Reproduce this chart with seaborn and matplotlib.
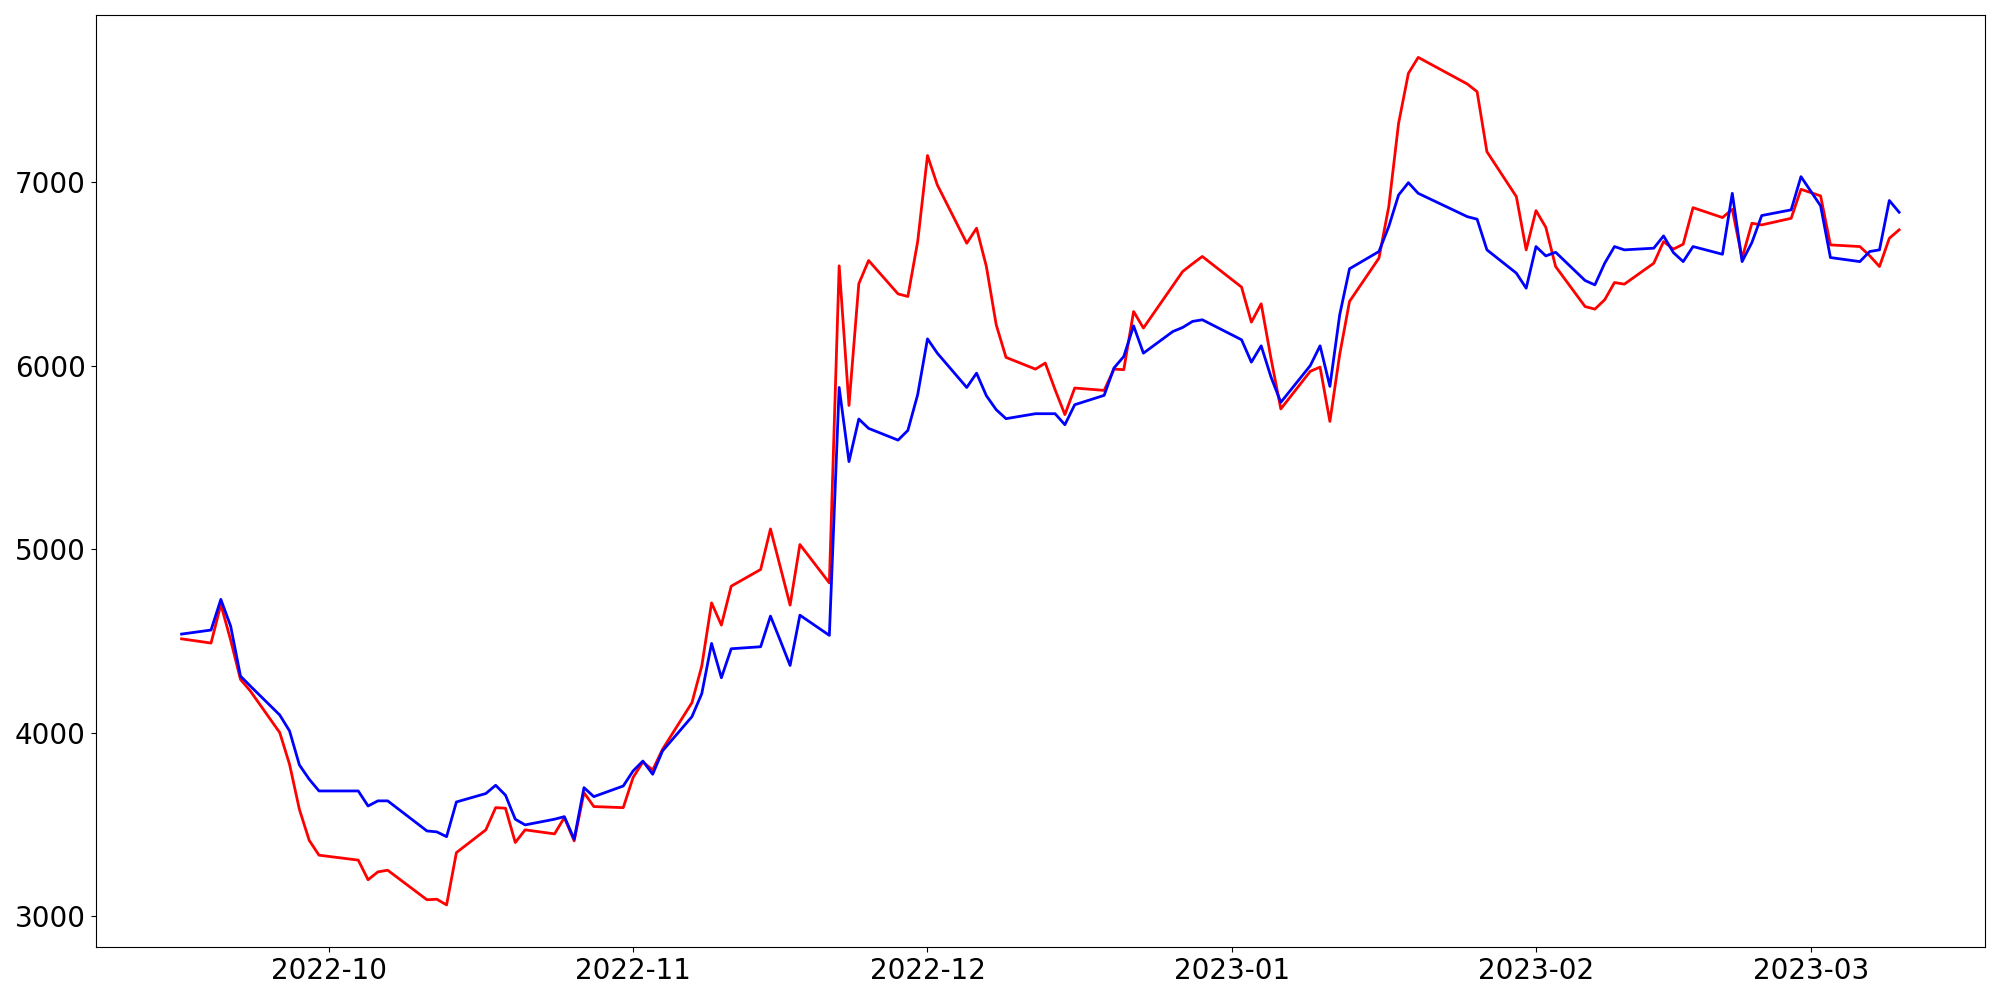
import numpy as np
import matplotlib
matplotlib.use("Agg")
import matplotlib.pyplot as plt
import seaborn as sns
import pandas as pd

# trading days (KRX calendar: Oct 3, Oct 10, Dec 30, Jan 23-24, Mar 1 closed)
holidays = ['2022-10-03', '2022-10-10', '2022-12-30',
            '2023-01-23', '2023-01-24', '2023-03-01']
dates = pd.bdate_range('2022-09-16', '2023-03-10', freq='C', holidays=holidays)

red_values = [
    # Sep
    4512, 4489, 4699, 4505, 4291, 4228, 4001, 3828, 3583, 3414, 3333,
    # Oct
    3306, 3199, 3242, 3251, 3090, 3093, 3062, 3347, 3471, 3592, 3589, 3402, 3471,
    3449, 3538, 3411, 3674, 3598, 3592,
    # Nov
    3756, 3841, 3797, 3910, 4164, 4364, 4708, 4587, 4799, 4890, 5111, 4904, 4696, 5026,
    4817, 6545, 5784, 6447, 6574, 6392, 6378, 6677,
    # Dec
    7146, 6986, 6668, 6750, 6541, 6224, 6046, 5982, 6015, 5870, 5734, 5879,
    5866, 5982, 5979, 6296, 6206, 6437, 6514, 6556, 6596,
    # Jan
    6429, 6238, 6338, 6040, 5765, 5970, 5993, 5697, 6062, 6351,
    6587, 6868, 7322, 7594, 7681, 7536, 7494, 7167, 6922, 6632,
    # Feb
    6846, 6755, 6541, 6323, 6309, 6360, 6454, 6445, 6559, 6677, 6636, 6663, 6862,
    6808, 6853, 6587, 6777, 6768, 6804, 6962,
    # Mar
    6926, 6659, 6650, 6600, 6541, 6695, 6741,
]

blue_values = [
    # Sep
    4538, 4560, 4727, 4581, 4309, 4255, 4097, 4010, 3825, 3747, 3683,
    # Oct
    3683, 3601, 3629, 3629, 3465, 3460, 3434, 3623, 3669, 3714, 3660, 3529, 3498,
    3529, 3543, 3420, 3701, 3652, 3710,
    # Nov
    3792, 3846, 3774, 3901, 4088, 4213, 4487, 4300, 4458, 4469, 4636, 4503, 4367, 4641,
    4531, 5882, 5478, 5710, 5659, 5595, 5648, 5843,
    # Dec
    6147, 6069, 5882, 5960, 5837, 5761, 5712, 5739, 5739, 5739, 5679, 5788,
    5839, 5988, 6051, 6218, 6069, 6187, 6209, 6242, 6251,
    # Jan
    6142, 6020, 6109, 5939, 5801, 6001, 6109, 5888, 6278, 6529,
    6623, 6759, 6931, 6998, 6940, 6813, 6799, 6632, 6505, 6423,
    # Feb
    6650, 6599, 6619, 6465, 6441, 6559, 6650, 6632, 6641, 6708, 6617, 6568, 6650,
    6608, 6940, 6568, 6672, 6819, 6850, 7031,
    # Mar
    6872, 6590, 6568, 6623, 6632, 6901, 6837,
]

df = pd.DataFrame({'date': dates, 'red': red_values, 'blue': blue_values})

fig, ax = plt.subplots(figsize=(20, 10), dpi=100)

sns.lineplot(data=df, x='date', y='red', color='red', linewidth=2, ax=ax)
sns.lineplot(data=df, x='date', y='blue', color='blue', linewidth=2, ax=ax)

ax.set_xlabel('')
ax.set_ylabel('')
ax.tick_params(axis='both', labelsize=20)

plt.tight_layout()
plt.savefig('out.png', dpi=100)
